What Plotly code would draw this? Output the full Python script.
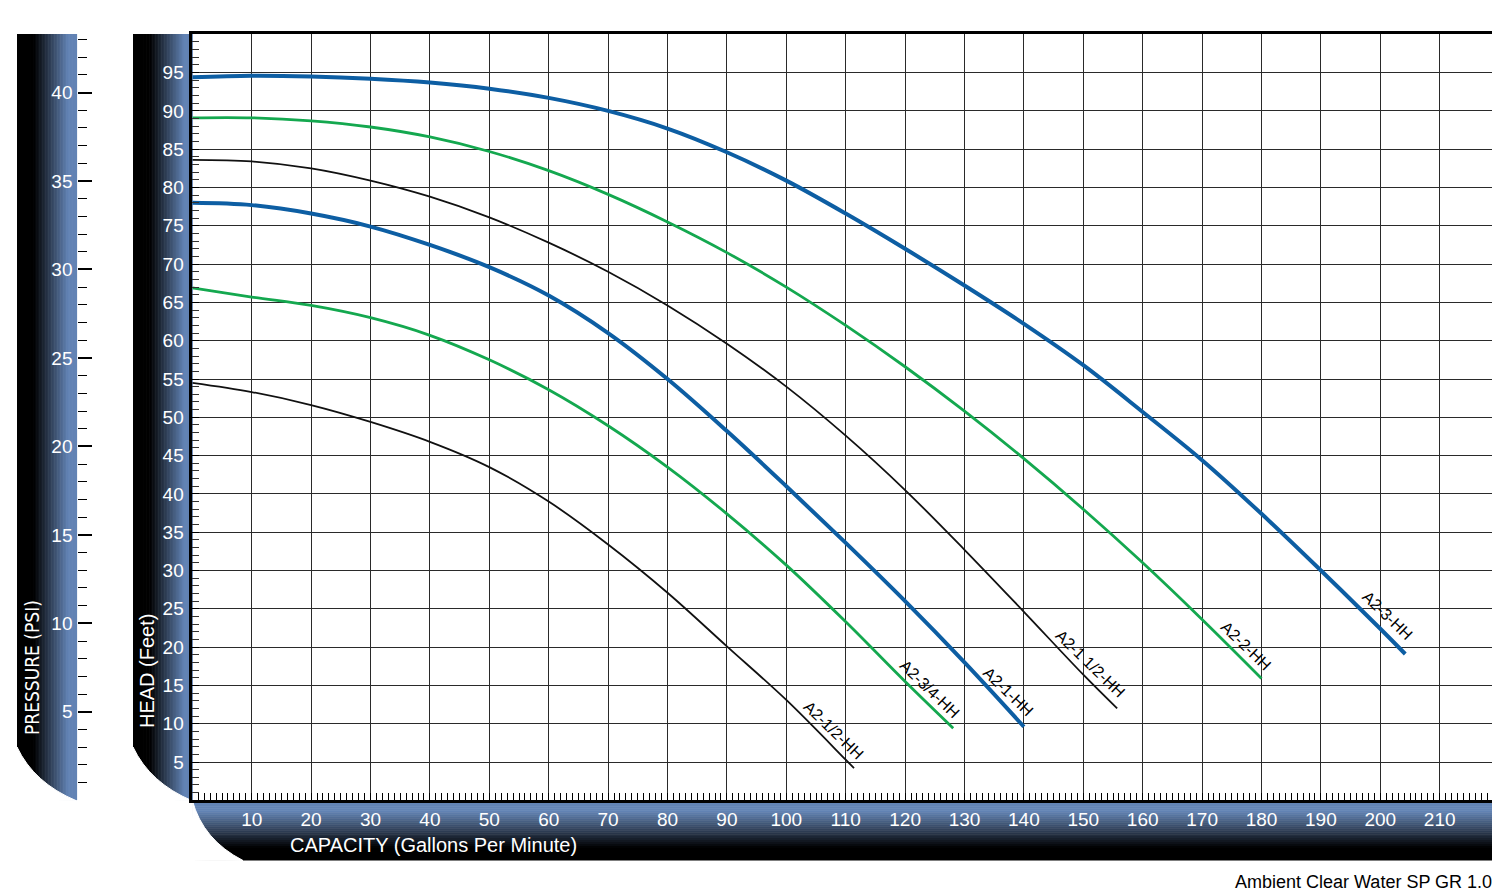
import plotly.graph_objects as go

OFF = 8  # the page body keeps its default 8px margin
W, H = 1500, 896

# capacity (GPM) / head (ft)
q_a2_3 = [0, 10, 20, 30, 40, 50, 60, 70, 80, 90, 100, 110, 120, 130, 140, 150, 160, 170, 180, 190, 200, 204.2]
h_a2_3 = [94.4, 94.6, 94.5, 94.2, 93.7, 92.9, 91.7, 90.0, 87.7, 84.6, 80.9, 76.6, 72.0, 67.2, 62.2, 56.8,
          50.7, 44.4, 37.4, 30.0, 22.4, 19.1]

q_a2_2 = [0, 10, 20, 30, 40, 50, 60, 70, 80, 90, 100, 110, 120, 130, 140, 150, 160, 170, 180]
h_a2_2 = [89.1, 89.1, 88.7, 87.9, 86.6, 84.7, 82.2, 79.1, 75.5, 71.5, 67.0, 62.0, 56.6, 50.8, 44.6, 38.0,
          31.0, 23.6, 15.9]

q_a2_15 = [0, 10, 20, 30, 40, 50, 60, 70, 80, 90, 100, 110, 120, 130, 140, 150, 155.7]
h_a2_15 = [83.6, 83.4, 82.5, 80.9, 78.8, 76.1, 72.8, 69.0, 64.6, 59.6, 54.0, 47.6, 40.5, 32.7, 24.6, 16.4, 12.0]

q_a2_1 = [0, 10, 20, 30, 40, 50, 60, 70, 80, 90, 100, 110, 120, 130, 140]
h_a2_1 = [78.0, 77.7, 76.6, 74.9, 72.5, 69.6, 65.9, 61.0, 55.0, 48.2, 41.0, 33.6, 26.0, 18.0, 9.6]

q_a2_34 = [0, 10, 20, 30, 40, 50, 60, 70, 80, 90, 100, 110, 120, 128.1]
h_a2_34 = [66.9, 65.7, 64.6, 63.0, 60.7, 57.5, 53.6, 48.9, 43.5, 37.4, 30.7, 23.3, 15.5, 9.4]

q_a2_12 = [0, 10, 20, 30, 40, 50, 60, 70, 80, 90, 100, 110, 111.4]
h_a2_12 = [54.5, 53.3, 51.6, 49.4, 46.8, 43.5, 39.0, 33.4, 27.1, 20.1, 13.1, 5.3, 4.2]

x_ticks = list(range(10, 211, 10))
head_ticks = list(range(5, 96, 5))
psi_ticks = list(range(0, 41, 5))
psi_labels = [""] + [str(v) for v in psi_ticks[1:]]

FT_PER_PSI = 2.31

BLUE = "#0D5EA3"
GREEN = "#14A84F"
BLACK = "#111111"
PANEL_BLUE = (98, 131, 180)
FONT = "Liberation Sans, Arial, sans-serif"

# name, q, h, colour, width, label shift (px)
curves = [
    ("A2-3-HH", q_a2_3, h_a2_3, BLUE, 4, -18, 38),
    ("A2-2-HH", q_a2_2, h_a2_2, GREEN, 2.8, -16, 33),
    ("A2-1 1/2-HH", q_a2_15, h_a2_15, BLACK, 1.8, -27, 45),
    ("A2-1-HH", q_a2_1, h_a2_1, BLUE, 4, -16, 35),
    ("A2-3/4-HH", q_a2_34, h_a2_34, GREEN, 2.8, -23, 39),
    ("A2-1/2-HH", q_a2_12, h_a2_12, BLACK, 1.8, -20, 38),
]

# pixel frame of the plot area (window pixels)
X0, X1 = 192.3, 1497
Y0, Y1 = 34.3, 800.3


def px(x):
    return (x - OFF) / W


def py(y):
    return 1 - (y - OFF) / H


def mix(f):
    r = int(PANEL_BLUE[0] * f)
    g = int(PANEL_BLUE[1] * f)
    b = int(PANEL_BLUE[2] * f)
    return f"rgb({r},{g},{b})"


def ramp(t, a, b):
    if t <= a:
        return 0.0
    if t >= b:
        return 1.0
    return (t - a) / (b - a)


shapes = []


def v_panel(left, right, top, bottom, n=40):
    w = (right - left) / n
    for i in range(n):
        t = (i + 0.5) / n
        shapes.append(dict(type="rect", xref="paper", yref="paper", layer="below",
                           x0=px(left + i * w), x1=px(left + (i + 1) * w + 0.6),
                           y0=py(bottom), y1=py(top), line_width=0,
                           fillcolor=mix(ramp(t, 0.28, 0.86))))


def h_panel(left, right, top, bottom, n=30):
    hgt = (bottom - top) / n
    for i in range(n):
        t = (i + 0.5) / n
        shapes.append(dict(type="rect", xref="paper", yref="paper", layer="below",
                           x0=px(left), x1=px(right),
                           y0=py(top + (i + 1) * hgt + 0.6), y1=py(top + i * hgt),
                           line_width=0, fillcolor=mix(1 - ramp(t, 0.18, 0.8))))


def corner_mask(sx, sy, cx, cy, ex, ey, kx, ky):
    path = (f"M {px(sx)},{py(sy)} Q {px(cx)},{py(cy)} {px(ex)},{py(ey)} "
            f"L {px(kx)},{py(ky)} Z")
    shapes.append(dict(type="path", xref="paper", yref="paper", layer="below",
                       path=path, fillcolor="white", line=dict(color="white", width=1)))


v_panel(17, 76.5, 34, 800.3)
v_panel(133, X0, 34, 800.3)
h_panel(X0, X1, 800.3, 860)
corner_mask(17, 747, 34, 783, 76.5, 800.8, 16, 801.5)
corner_mask(133, 747, 150, 783, X0, 800.8, 132, 801.5)
corner_mask(X0, 800.3, 203, 840, 243, 860.5, X0 - 1, 861)

fig = go.Figure()
for name, q, h, color, width, sx, sy in curves:
    fig.add_trace(go.Scatter(x=q, y=h, mode="lines", name=name,
                             line=dict(color=color, width=width, shape="spline", smoothing=1)))

# invisible trace to bring in the pressure axis
fig.add_trace(go.Scatter(x=[0, 0], y=[0, 100 / FT_PER_PSI], yaxis="y2", mode="lines",
                         line=dict(width=0), hoverinfo="skip", showlegend=False))

annotations = []
for name, q, h, color, width, sx, sy in curves:
    annotations.append(dict(x=q[-1], y=h[-1], xref="x", yref="y", text=name, showarrow=False,
                            textangle=44, xshift=sx, yshift=sy, xanchor="center", yanchor="middle",
                            font=dict(family=FONT, size=16, color="black")))

annotations += [
    dict(x=px(433), y=py(845), xref="paper", yref="paper", text="CAPACITY (Gallons Per Minute)",
         xanchor="center", yanchor="middle", showarrow=False,
         font=dict(family=FONT, size=20, color="white")),
    dict(x=px(147), y=py(671), xref="paper", yref="paper", text="HEAD (Feet)", textangle=-90,
         xanchor="center", yanchor="middle", showarrow=False,
         font=dict(family=FONT, size=20, color="white")),
    dict(x=px(32), y=py(668), xref="paper", yref="paper", text="PRESSURE (PSI)", textangle=-90,
         xanchor="center", yanchor="middle", showarrow=False,
         font=dict(family="Liberation Sans Narrow, DejaVu Sans Condensed, " + FONT, size=19,
                   color="white")),
    dict(x=px(1494), y=py(882), xref="paper", yref="paper", text="Ambient Clear Water SP GR 1.0",
         xanchor="right", yanchor="middle", showarrow=False,
         font=dict(family=FONT, size=18, color="black")),
]

fig.update_layout(
    template="none",
    width=W, height=H, autosize=False,
    margin=dict(l=0, r=0, t=0, b=0),
    paper_bgcolor="white", plot_bgcolor="white",
    showlegend=False,
    shapes=shapes,
    annotations=annotations,
    xaxis=dict(
        domain=[px(X0), px(X1)], range=[0, (X1 - X0) / 5.94], automargin=False,
        tickmode="array", tickvals=x_ticks, ticks="inside", ticklen=8, tickwidth=1.2,
        tickcolor="black", showgrid=True, gridcolor="#2a2a2a", gridwidth=1.4,
        showline=True, linecolor="black", linewidth=2.5, mirror=True, zeroline=False,
        tickfont=dict(family=FONT, size=19, color="white"), ticklabelstandoff=0,
        minor=dict(tickmode="linear", tick0=0, dtick=1, ticks="inside", ticklen=8,
                   tickwidth=1, tickcolor="black", showgrid=False),
    ),
    yaxis=dict(
        domain=[py(Y1), py(Y0)], range=[0, 100], automargin=False,
        tickmode="array", tickvals=head_ticks, ticks="inside", ticklen=7, tickwidth=1.2,
        tickcolor="black", showgrid=True, gridcolor="#2a2a2a", gridwidth=1.4,
        showline=True, linecolor="black", linewidth=2.5, mirror=True, zeroline=False,
        tickfont=dict(family=FONT, size=19, color="white"), ticklabelstandoff=2,
        minor=dict(tickmode="linear", tick0=0, dtick=1, ticks="inside", ticklen=7,
                   tickwidth=1, tickcolor="#333", showgrid=False),
    ),
    yaxis2=dict(
        overlaying="y", anchor="free", position=px(76.5), side="left",
        range=[0, 100 / FT_PER_PSI], automargin=False,
        tickmode="array", tickvals=psi_ticks, ticktext=psi_labels,
        ticks="inside", ticklen=14, tickwidth=1.5, tickcolor="black",
        showgrid=False, showline=False, zeroline=False,
        tickfont=dict(family=FONT, size=19, color="white"), ticklabelstandoff=4,
        minor=dict(tickmode="linear", tick0=0, dtick=1, ticks="inside", ticklen=9,
                   tickwidth=1.2, tickcolor="black", showgrid=False),
    ),
)

fig.write_html("out.html")
